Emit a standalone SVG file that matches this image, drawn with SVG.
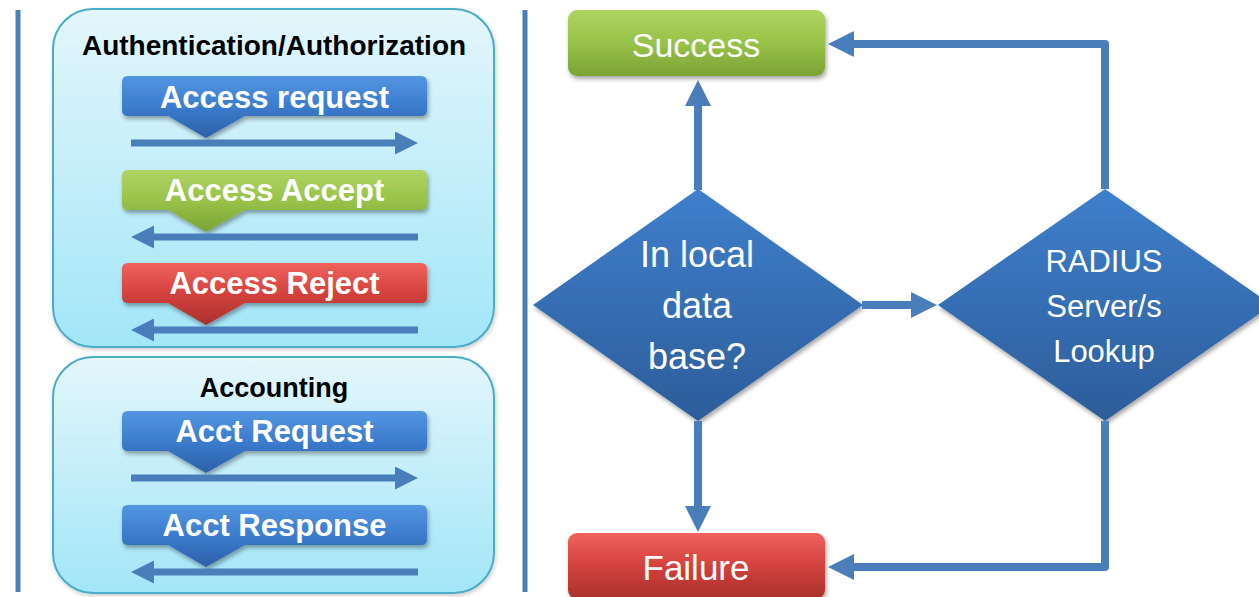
<svg xmlns="http://www.w3.org/2000/svg" width="1259" height="597" viewBox="0 0 1259 597">
<defs>
<style>
.bar{fill:#4a7ebb}
.panel{stroke:#4bacc6;stroke-width:2;fill:url(#gPanel)}
.title{font-family:"Liberation Sans",Arial,sans-serif;font-weight:bold;fill:#000;text-anchor:middle}
.btxt{font-family:"Liberation Sans",Arial,sans-serif;font-weight:bold;font-size:31px;fill:#fff;text-anchor:middle}
.rtxt{font-family:"Liberation Sans",Arial,sans-serif;fill:#fff;text-anchor:middle}
.sa{stroke:#4a7ebb;stroke-width:7;fill:none}
.ca{stroke:#4a7ebb;stroke-width:8;fill:none;stroke-linejoin:round}
</style>
<linearGradient id="gPanel" x1="0" y1="0" x2="0" y2="1"><stop offset="0" stop-color="#e3f6fb"/><stop offset="1" stop-color="#a2e6f8"/></linearGradient>
<linearGradient id="gBlue" x1="0" y1="0" x2="0" y2="1"><stop offset="0" stop-color="#5396e2"/><stop offset="0.5" stop-color="#3b7bcd"/><stop offset="1" stop-color="#2c60a8"/></linearGradient>
<linearGradient id="gGreen" x1="0" y1="0" x2="0" y2="1"><stop offset="0" stop-color="#aed462"/><stop offset="0.5" stop-color="#98c248"/><stop offset="1" stop-color="#7aa335"/></linearGradient>
<linearGradient id="gRed" x1="0" y1="0" x2="0" y2="1"><stop offset="0" stop-color="#f0625d"/><stop offset="0.5" stop-color="#d3413d"/><stop offset="1" stop-color="#aa312d"/></linearGradient>
<linearGradient id="gDia" x1="0" y1="0" x2="0" y2="1"><stop offset="0" stop-color="#3f7fcc"/><stop offset="1" stop-color="#2c5d9a"/></linearGradient>
<filter id="sh" x="-10%" y="-10%" width="125%" height="130%"><feDropShadow dx="1.5" dy="3" stdDeviation="2" flood-color="#000" flood-opacity="0.35"/></filter>
<filter id="psh" x="-5%" y="-5%" width="110%" height="112%"><feDropShadow dx="1" dy="2" stdDeviation="2" flood-color="#000" flood-opacity="0.2"/></filter>
<marker id="ahs" markerUnits="userSpaceOnUse" markerWidth="24" markerHeight="24" refX="1" refY="11.5" orient="auto"><path d="M0,0 L23,11.5 L0,23 Z" fill="#4a7ebb"/></marker>
<marker id="ahl" markerUnits="userSpaceOnUse" markerWidth="28" markerHeight="28" refX="1" refY="13" orient="auto"><path d="M0,0 L26,13 L0,26 Z" fill="#4a7ebb"/></marker>
</defs>
<rect width="1259" height="597" fill="#fff"/>
<g id="dividers">
<rect class="bar" x="15.5" y="10" width="5" height="582"/>
<rect class="bar" x="522.5" y="10" width="5" height="582"/>
</g>
<g id="panel-auth">
<rect class="panel" x="53" y="9" width="441" height="338" rx="40" filter="url(#psh)"/>
<text class="title" x="274" y="55" font-size="28">Authentication/Authorization</text>
</g>
<g id="access-request">
<path d="M128,76 H421 Q427,76 427,82 V110 Q427,116 421,116 H245 L206,138 L168,116 H128 Q122,116 122,110 V82 Q122,76 128,76 Z" fill="url(#gBlue)" filter="url(#sh)"/>
<text class="btxt" x="274.5" y="108">Access request</text>
</g>
<g id="access-accept">
<path d="M128,170 H421 Q427,170 427,176 V204 Q427,210 421,210 H245 L206,232 L168,210 H128 Q122,210 122,204 V176 Q122,170 128,170 Z" fill="url(#gGreen)" filter="url(#sh)"/>
<text class="btxt" x="274.5" y="201">Access Accept</text>
</g>
<g id="access-reject">
<path d="M128,263 H421 Q427,263 427,269 V297 Q427,303 421,303 H245 L206,325 L168,303 H128 Q122,303 122,297 V269 Q122,263 128,263 Z" fill="url(#gRed)" filter="url(#sh)"/>
<text class="btxt" x="274.5" y="294">Access Reject</text>
</g>
<g id="panel-acct">
<rect class="panel" x="53" y="357" width="441" height="236" rx="40" filter="url(#psh)"/>
<text class="title" x="274" y="397" font-size="27">Accounting</text>
</g>
<g id="acct-request">
<path d="M128,411 H421 Q427,411 427,417 V445 Q427,451 421,451 H245 L206,473 L168,451 H128 Q122,451 122,445 V417 Q122,411 128,411 Z" fill="url(#gBlue)" filter="url(#sh)"/>
<text class="btxt" x="274.5" y="442">Acct Request</text>
</g>
<g id="acct-response">
<path d="M128,505 H421 Q427,505 427,511 V539 Q427,545 421,545 H245 L206,567 L168,545 H128 Q122,545 122,539 V511 Q122,505 128,505 Z" fill="url(#gBlue)" filter="url(#sh)"/>
<text class="btxt" x="274.5" y="536">Acct Response</text>
</g>
<g id="success">
<rect x="568" y="10" width="257" height="66" rx="9" fill="url(#gGreen)" filter="url(#sh)"/>
<text class="rtxt" x="696" y="57" font-size="34">Success</text>
</g>
<g id="failure">
<rect x="568" y="533" width="257" height="66" rx="9" fill="url(#gRed)" filter="url(#sh)"/>
<text class="rtxt" x="696" y="580" font-size="35">Failure</text>
</g>
<g id="local-db">
<polygon points="533,305 698,189 863,305 698,421" fill="url(#gDia)" filter="url(#sh)"/>
<text class="rtxt" font-size="36"><tspan x="697" y="267">In local</tspan><tspan x="697" y="318">data</tspan><tspan x="697" y="369">base?</tspan></text>
</g>
<g id="radius">
<polygon points="938,305 1105,189 1272,305 1105,421" fill="url(#gDia)" filter="url(#sh)"/>
<text class="rtxt" font-size="31"><tspan x="1104" y="272">RADIUS</tspan><tspan x="1104" y="317">Server/s</tspan><tspan x="1104" y="362">Lookup</tspan></text>
</g>
<g id="connectors">
<line class="sa" x1="131" y1="143" x2="396" y2="143" marker-end="url(#ahs)"/>
<line class="sa" x1="418" y1="237" x2="153" y2="237" marker-end="url(#ahs)"/>
<line class="sa" x1="418" y1="330" x2="153" y2="330" marker-end="url(#ahs)"/>
<line class="sa" x1="131" y1="478" x2="396" y2="478" marker-end="url(#ahs)"/>
<line class="sa" x1="418" y1="572" x2="153" y2="572" marker-end="url(#ahs)"/>
<path class="ca" d="M698,190 V105" marker-end="url(#ahl)"/>
<path class="ca" d="M1105,189 V44 H853" marker-end="url(#ahl)"/>
<path class="ca" d="M862,305 H912" marker-end="url(#ahl)"/>
<path class="ca" d="M698,421 V507" marker-end="url(#ahl)"/>
<path class="ca" d="M1105,421 V567 H853" marker-end="url(#ahl)"/>
</g>
</svg>
